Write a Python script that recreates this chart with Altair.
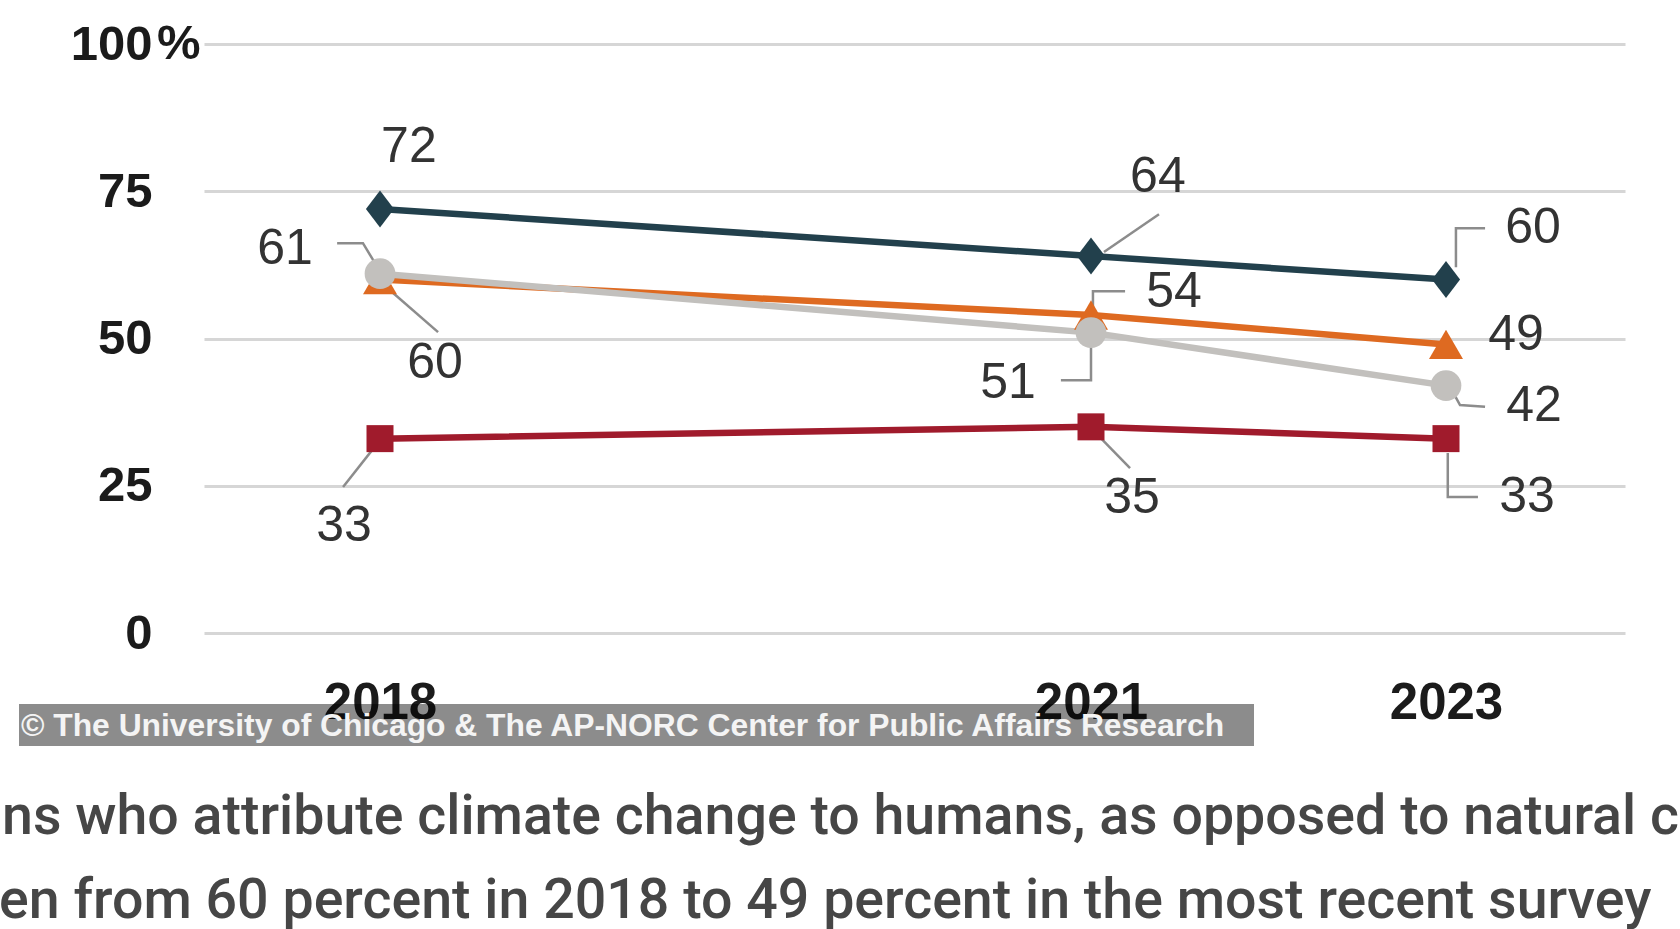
import altair as alt
import pandas as pd

# ---------------- data ----------------
years = [2018, 2021, 2023]
series_names = ["Series 1", "Series 2", "Series 3", "Series 4"]
series_1 = [72, 64, 60]
series_2 = [60, 54, 49]
series_3 = [61, 51, 42]
series_4 = [33, 35, 33]
series_values = [series_1, series_2, series_3, series_4]
y_ticks = [0, 25, 50, 75, 100]
x_ticks = [2018, 2021, 2023]
credit_text = "\u00a9 The University of Chicago & The AP-NORC Center for Public Affairs Research"
caption_lines = [
    "ns who attribute climate change to humans, as opposed to natural c",
    "en from 60 percent in 2018 to 49 percent in the most recent survey",
]

# ---------------- styling / annotation layout ----------------
colors = ["#22404c", "#de6a21", "#c2c0bd", "#a01b2c"]
diamond = "M0,-1L0.76,0L0,1L-0.76,0Z"
shapes = [diamond, "triangle-up", "circle", "square"]
sizes = [1369, 729, 420, 784]
# label offsets from each point (years, percentage points)
label_dx = [[0.122, 0.377, 0.49], [0.232, 0.468, 0.394], [-0.401, -0.35, 0.496], [-0.152, 0.231, 0.456]]
label_dy = [[10.47, 13.38, 8.73], [-14.18, 3.87, 1.57], [4.16, -8.58, -3.48], [-14.84, -12.09, -9.92]]
# leader line vertices as offsets from the point
leaders = [
    (0, 1, [(0.073, 0.7), (0.383, 7.1)]),
    (0, 2, [(0.056, 2.1), (0.056, 8.73), (0.22, 8.73)]),
    (1, 0, [(0.042, -1.8), (0.245, -8.92)]),
    (1, 1, [(0.011, 0.0), (0.011, 4.03), (0.192, 4.03)]),
    (2, 0, [(-0.021, 1.79), (-0.072, 5.18), (-0.181, 5.18)]),
    (2, 1, [(0.0, -0.1), (0.0, -8.07), (-0.127, -8.07)]),
    (2, 2, [(0.023, -0.2), (0.079, -3.3), (0.22, -3.6)]),
    (3, 0, [(0.0, -0.25), (-0.156, -8.22)]),
    (3, 1, [(0.0, -0.21), (0.22, -7.0)]),
    (3, 2, [(0.01, -2.46), (0.01, -9.92), (0.18, -9.92)]),
]

rows = []
for si, name in enumerate(series_names):
    for yi, yr in enumerate(years):
        v = series_values[si][yi]
        rows.append({
            "series": name, "order": si, "year": yr, "value": v,
            "lx": yr + label_dx[si][yi], "ly": v + label_dy[si][yi],
            "label": str(v),
        })
df = pd.DataFrame(rows)

lrows = []
for lid, (si, yi, verts) in enumerate(leaders):
    for k, (dx, dy) in enumerate(verts):
        lrows.append({"lid": lid, "k": k,
                      "year": years[yi] + dx,
                      "value": series_values[si][yi] + dy})
ldf = pd.DataFrame(lrows)

W, H = 1421, 589
xscale = alt.Scale(domain=[2017.257, 2018, 2021, 2023, 2024.008],
                   range=[0, 176, 887, 1242, W], nice=False, zero=False)
yscale = alt.Scale(domain=[0, 100], nice=False, zero=True)
color_scale = alt.Scale(domain=series_names, range=colors)

x_axis = alt.Axis(values=x_ticks, format="d", title=None, grid=False, ticks=False,
                  domain=False, labelFont="Liberation Sans", labelFontWeight="bold",
                  labelFontSize=51, labelColor="#1b1b1b", labelPadding=85,
                  labelBaseline="alphabetic", labelFlush=False, labelOverlap=False)
y_axis = alt.Axis(values=y_ticks, title=None, grid=True, gridColor="#d6d6d6", gridWidth=3,
                  ticks=False, tickSize=0, domain=False, labelFont="Liberation Sans",
                  labelFontWeight="bold", labelFontSize=49, labelColor="#1b1b1b",
                  labelPadding=52, labelAlign="right")


def X(field):
    return alt.X(field, scale=xscale, axis=x_axis)


def Y(field):
    return alt.Y(field, scale=yscale, axis=y_axis)


base = alt.Chart(df)

lines = base.mark_line(strokeWidth=6.5).encode(
    x=X("year:Q"),
    y=Y("value:Q"),
    color=alt.Color("series:N", scale=color_scale, legend=None),
    detail="series:N",
    order="year:Q",
)

leader_lines = alt.Chart(ldf).mark_line(color="#8c8c8c", strokeWidth=2.5).encode(
    x=X("year:Q"),
    y=Y("value:Q"),
    detail="lid:N",
    order="k:Q",
)

points = base.mark_point(filled=True, opacity=1).encode(
    x=X("year:Q"),
    y=Y("value:Q"),
    color=alt.Color("series:N", scale=color_scale, legend=None),
    shape=alt.Shape("series:N", scale=alt.Scale(domain=series_names, range=shapes), legend=None),
    size=alt.Size("series:N", scale=alt.Scale(domain=series_names, range=sizes), legend=None),
)

labels = base.mark_text(font="Liberation Sans", fontSize=50, color="#333333",
                        align="center", baseline="middle").encode(
    x=X("lx:Q"),
    y=Y("ly:Q"),
    text="label:N",
)

pct = alt.Chart(pd.DataFrame({"t": ["%"]})).mark_text(
    font="Liberation Sans", fontWeight="bold", fontSize=49, color="#1b1b1b",
    align="left", baseline="middle").encode(
    x=alt.value(-47), y=alt.value(0), text="t:N")

banner = alt.Chart(pd.DataFrame({"t": [credit_text]})).mark_rect(
    color="#000000", opacity=0.45).encode(
    x=alt.value(-185), x2=alt.value(1050), y=alt.value(660), y2=alt.value(702))

banner_text = alt.Chart(pd.DataFrame({"t": [credit_text]})).mark_text(
    font="Liberation Sans", fontWeight="bold", fontSize=31.8, color="#f4f4f4",
    align="left", baseline="middle").encode(
    x=alt.value(-183), y=alt.value(682), text="t:N")

caption1 = alt.Chart(pd.DataFrame({"t": [caption_lines[0]]})).mark_text(
    font="Roboto", fontWeight=500, fontSize=55.5, color="#464646",
    align="left", baseline="alphabetic").encode(
    x=alt.value(-202), y=alt.value(790), text="t:N")
caption2 = alt.Chart(pd.DataFrame({"t": [caption_lines[1]]})).mark_text(
    font="Roboto", fontWeight=500, fontSize=55.5, color="#464646",
    align="left", baseline="alphabetic").encode(
    x=alt.value(-205), y=alt.value(874), text="t:N")

chart = alt.layer(
    lines, leader_lines, points, labels, pct, banner, banner_text, caption1, caption2
).properties(
    width=W, height=H,
    autosize=alt.AutoSizeParams(type="none"),
    padding={"left": 204, "top": 44, "right": 55, "bottom": 296},
    background="white",
).configure_view(stroke=None)

chart.save("out.html", embed_options={"renderer": "svg", "actions": False})
